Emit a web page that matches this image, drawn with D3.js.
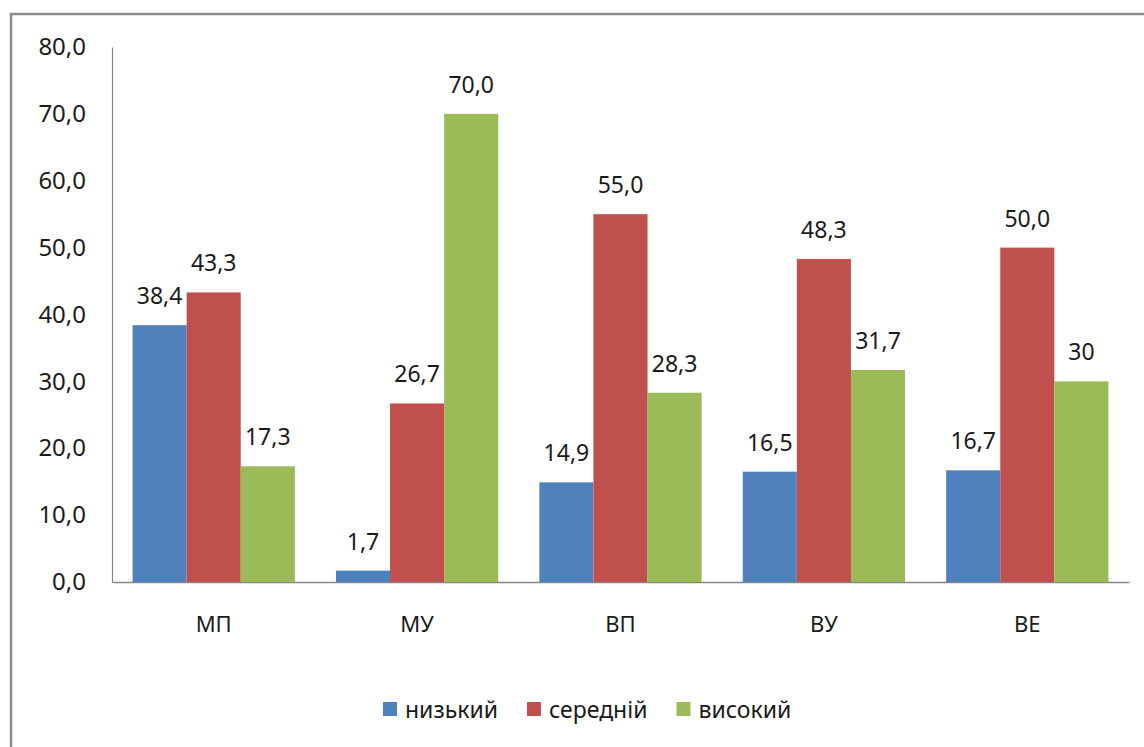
<!DOCTYPE html>
<html>
<head>
<meta charset="utf-8">
<script src="https://cdn.jsdelivr.net/npm/d3@7"></script>
<style>
    body { margin: 0; background: #fff; }
    text { font-family: 'Noto Sans', sans-serif; fill: #1a1a1a; }
</style>
</head>
<body>
<div id="vis"></div>
<script>
var categories = ['МП', 'МУ', 'ВП', 'ВУ', 'ВЕ'];
var seriesNames = ['низький', 'середній', 'високий'];
var lowValues = [38.4, 1.7, 14.9, 16.5, 16.7];
var midValues = [43.3, 26.7, 55.0, 48.3, 50.0];
var highValues = [17.3, 70.0, 28.3, 31.7, 30.0];
var highLabels = ['17,3', '70,0', '28,3', '31,7', '30'];
var yTicks = [0, 10, 20, 30, 40, 50, 60, 70, 80];
var colors = ['#4F81BD', '#C0504D', '#9BBB59'];

var width = 1144;
var height = 747;
var margin = { left: 112, right: 15, top: 47, bottom: 165 };
var drawWidth = width - margin.left - margin.right;
var drawHeight = height - margin.top - margin.bottom;

var fmt = function(v) { return d3.format('.1f')(v).replace('.', ','); };

var data = [];
categories.forEach(function(c, i) {
    data.push({ cat: c, series: seriesNames[0], value: lowValues[i], label: fmt(lowValues[i]) });
    data.push({ cat: c, series: seriesNames[1], value: midValues[i], label: fmt(midValues[i]) });
    data.push({ cat: c, series: seriesNames[2], value: highValues[i], label: highLabels[i] });
});

var svg = d3.select('#vis')
    .append('svg')
    .attr('width', width)
    .attr('height', height);

// outer frame
svg.append('rect')
    .attr('x', 11)
    .attr('y', 14)
    .attr('width', width + 20)
    .attr('height', height + 20)
    .attr('fill', 'none')
    .attr('stroke', '#8c8c8c')
    .attr('stroke-width', 2.5);

var g = svg.append('g')
    .attr('transform', 'translate(' + margin.left + ',' + margin.top + ')');

var xScale = d3.scaleBand().domain(categories).range([0, drawWidth]).padding(0);
var sScale = d3.scaleBand().domain(seriesNames).range([0, xScale.bandwidth()])
    .paddingInner(0).paddingOuter(0.38);
var yScale = d3.scaleLinear().domain([0, 80]).range([drawHeight, 0]);
var colorScale = d3.scaleOrdinal().domain(seriesNames).range(colors);

var yAxis = d3.axisLeft(yScale).tickValues(yTicks).tickSize(0).tickPadding(26).tickFormat(fmt);
var yAxisG = g.append('g').call(yAxis);
yAxisG.select('.domain').attr('stroke', '#868686').attr('stroke-width', 1.2);
yAxisG.selectAll('text').style('font-size', '24px').attr('fill', '#1a1a1a');

var xAxis = d3.axisBottom(xScale).tickSize(0).tickPadding(34);
var xAxisG = g.append('g')
    .attr('transform', 'translate(0,' + drawHeight + ')')
    .call(xAxis);
xAxisG.select('.domain').attr('stroke', '#868686').attr('stroke-width', 1.6);
xAxisG.selectAll('text').style('font-size', '22px').attr('fill', '#1a1a1a');

g.selectAll('rect.bar')
    .data(data)
    .enter().append('rect')
    .attr('class', 'bar')
    .attr('x', d => xScale(d.cat) + sScale(d.series))
    .attr('y', d => yScale(d.value))
    .attr('width', sScale.bandwidth())
    .attr('height', d => drawHeight - yScale(d.value))
    .style('fill', d => colorScale(d.series));

g.selectAll('text.label')
    .data(data)
    .enter().append('text')
    .attr('class', 'label')
    .attr('x', d => xScale(d.cat) + sScale(d.series) + sScale.bandwidth() / 2)
    .attr('y', d => yScale(d.value) - 21)
    .attr('text-anchor', 'middle')
    .style('font-size', '23px')
    .text(d => d.label);

// legend
var legend = svg.append('g').attr('transform', 'translate(383,702)');
var lx = 0;
seriesNames.forEach(function(s) {
    var item = legend.append('g').attr('transform', 'translate(' + lx + ',0)');
    item.append('rect')
        .attr('width', 14)
        .attr('height', 14)
        .style('fill', colorScale(s));
    var t = item.append('text')
        .attr('x', 22)
        .attr('y', 16)
        .style('font-size', '23px')
        .text(s);
    lx += 22 + t.node().getComputedTextLength() + 29;
});
</script>
</body>
</html>
